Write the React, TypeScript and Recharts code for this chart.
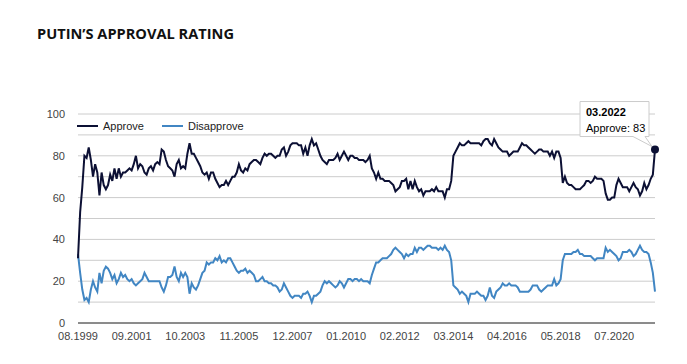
import { LineChart, Line, XAxis, YAxis, CartesianGrid, ReferenceDot } from "recharts"

// Levada-style monthly poll, 08.1999 - 03.2022 (two months absent from the series)
const approve = [
  31, 53, 65, 80, 79,
  84, 78, 70, 76, 72, 61, 72, 66, 64, 66, 71, 68,
  74, 69, 74, 70, 72, 72, 73, 74, 73, 76, 80, 74,
  76, 75, 72, 71, 74, 75, 73, 76, 77, 76, 83, 82,
  78, 75, 74, 73, 70, 76, 78, 74, 75, 74, 81, 86,
  81, 81, 79, 77, 75, 72, 71, 72, 69, 72, 72, 69,
  67, 65, 66, 66, 68, 66, 68, 70, 70, 72, 76, 73,
  72, 74, 73, 76, 77, 78, 78, 77, 76, 79, 81, 80,
  81, 81, 80, 79, 80, 80, 83, 84, 80, 82, 85, 86,
  86, 86, 85, 85, 81, 84, 80, 85, 88, 85, 86, 83,
  80, 78, 77, 76, 78, 78, 78, 79, 81, 78, 80, 82,
  80, 78, 80, 80, 79, 79, 78, 78, 78, 77, 78, 80,
  74, 72, 69, 72, 69, 69, 68, 68, 68, 67, 66, 63,
  64, 65, 68, 68, 69, 64, 68, 64, 68, 65, 63, 64,
  61, 63, 63, 63, 64, 63, 65, 63, 63, 63, 60, 64,
  64, 68,
  80, 82, 84, 86, 85, 85, 86, 87, 86, 86, 86, 86,
  86, 85, 87, 88, 88, 86, 85, 88, 86, 84, 83, 82,
  82, 82, 80, 81, 82, 82, 82, 84, 86, 85, 85, 84,
  83, 82, 81, 82, 83, 83, 82, 82, 82, 80, 82, 79,
  82, 82, 79, 67, 70, 67, 66, 66, 65, 64, 64, 64,
  65, 66, 68, 68, 67, 68, 70, 69, 69, 69, 68, 62,
  59, 59, 60, 60, 66, 69, 67, 65, 65, 65, 63, 65,
  67, 65, 64, 61, 63, 67, 64, 66, 69, 71, 83,
]

const disapprove = [
  33, 24, 16, 11, 12,
  10, 16, 20, 17, 15, 24, 19, 25, 27, 26, 24, 21,
  23, 19, 21, 24, 22, 23, 21, 20, 21, 19, 18, 19,
  20, 21, 24, 22, 20, 20, 20, 20, 20, 20, 17, 15,
  18, 22, 22, 23, 27, 22, 20, 24, 22, 24, 22, 14,
  19, 17, 16, 18, 21, 24, 25, 29, 28, 29, 29, 31,
  30, 32, 29, 30, 29, 31, 31, 29, 27, 25, 24, 25,
  25, 26, 24, 25, 24, 23, 20, 20, 21, 22, 20, 20,
  19, 19, 18, 18, 17, 15, 16, 19, 17, 15, 13, 12,
  13, 13, 13, 12, 14, 14, 15, 13, 10, 13, 13, 14,
  15, 18, 20, 19, 20, 19, 18, 17, 18, 20, 19, 17,
  19, 21, 21, 20, 21, 21, 20, 21, 20, 20, 20, 19,
  23, 26, 29, 29, 30, 31, 31, 31, 32, 33, 35, 36,
  35, 34, 33, 31, 33, 32, 33, 33, 36, 34, 36, 36,
  35, 36, 37, 37, 36, 36, 36, 35, 36, 35, 37, 35,
  34, 30,
  18, 17, 16, 14, 15, 14, 13, 10, 14, 14, 14, 15,
  14, 13, 13, 11, 13, 17, 13, 12, 15, 16, 17, 19,
  18, 18, 19, 18, 18, 18, 17, 15, 15, 15, 15, 15,
  16, 18, 18, 18, 16, 15, 16, 17, 18, 18, 18, 21,
  18, 19, 21, 30, 33, 33, 33, 33, 34, 34, 35, 33,
  33, 32, 32, 32, 32, 31, 30, 31, 31, 31, 31, 36,
  34, 35, 34, 33, 32, 30, 31, 34, 34, 34, 35, 34,
  32, 33, 35, 37, 35, 34, 34, 33, 29, 24, 15,
]

const xTickLabels = [
  "08.1999", "09.2001", "10.2003", "11.2005", "12.2007", "01.2010",
  "02.2012", "03.2014", "04.2016", "05.2018", "07.2020",
]
const yTicks = [0, 10, 20, 30, 40, 50, 60, 70, 80, 90, 100]
const missingMonths = ["06.2018", "05.2021"]

const FONT = "'Liberation Sans', Arial, sans-serif"
const APPROVE_COLOR = "#0c1034"
const DISAPPROVE_COLOR = "#4186c3"

function monthRange(first: string, last: string, skip: string[]) {
  let [m, y] = first.split(".").map(Number)
  const out: string[] = []
  while (true) {
    const label = `${String(m).padStart(2, "0")}.${y}`
    if (!skip.includes(label)) out.push(label)
    if (label === last) break
    m += 1
    if (m > 12) {
      m = 1
      y += 1
    }
  }
  return out
}

const months = monthRange("08.1999", "03.2022", missingMonths)
const data = months.map((month, i) => ({
  month,
  Approve: approve[i],
  Disapprove: disapprove[i],
}))
const lastPoint = data[data.length - 1]

function YTick({ x, y, payload }: any) {
  if (payload.value % 20 !== 0) return <g />
  return (
    <text x={x} y={y} dy={4} textAnchor="end" fontSize={11} fill="#444" fontFamily={FONT}>
      {payload.value}
    </text>
  )
}

function TooltipDot({ cx, cy }: any) {
  const l = cx - 75
  const r = cx - 6
  const t = cy - 48
  const b = cy - 13
  return (
    <g>
      <path
        d={`M${l},${t} H${r} V${b} H${r - 4} L${cx - 3},${cy - 3} L${r - 16},${b} H${l} Z`}
        fill="#fff"
        stroke="#cccccc"
        strokeWidth={1}
      />
      <text x={l + 6} y={t + 14} fontSize={11} fontWeight={700} fill="#000" fontFamily={FONT}>
        {lastPoint.month}
      </text>
      <text x={l + 6} y={t + 30} fontSize={11} fill="#000" fontFamily={FONT}>
        Approve: {lastPoint.Approve}
      </text>
      <circle cx={cx} cy={cy} r={4} fill={APPROVE_COLOR} />
    </g>
  )
}

function LegendItem({ color, label }: { color: string; label: string }) {
  return (
    <div style={{ display: "flex", alignItems: "center", marginRight: 18 }}>
      <div style={{ width: 21, height: 2, background: color, marginRight: 5 }} />
      <span>{label}</span>
    </div>
  )
}

export default function App() {
  return (
    <div
      style={{
        position: "absolute",
        left: 0,
        top: 0,
        width: 687,
        height: 364,
        background: "#fff",
        overflow: "hidden",
      }}
    >
      <div
        style={{
          position: "absolute",
          left: 37,
          top: 23,
          fontFamily: "'Open Sans', sans-serif",
          fontWeight: 700,
          fontSize: 14.6,
          lineHeight: "20px",
          color: "#111",
          whiteSpace: "nowrap",
        }}
      >
        PUTIN’S APPROVAL RATING
      </div>

      <div style={{ position: "absolute", left: 0, top: 0 }}>
        <LineChart width={687} height={364} data={data} margin={{ top: 114, right: 32, bottom: 11, left: 0 }}>
          <CartesianGrid vertical={false} stroke="#cccccc" />
          <XAxis
            dataKey="month"
            ticks={xTickLabels}
            interval={0}
            tickLine={false}
            tickMargin={3}
            axisLine={{ stroke: "#333" }}
            tick={{ fontSize: 11, fill: "#444", fontFamily: FONT }}
          />
          <YAxis
            width={78}
            domain={[0, 100]}
            ticks={yTicks}
            interval={0}
            axisLine={false}
            tickLine={false}
            tickMargin={7}
            tick={<YTick />}
          />
          <Line
            type="linear"
            dataKey="Disapprove"
            stroke={DISAPPROVE_COLOR}
            strokeWidth={2}
            dot={false}
            isAnimationActive={false}
          />
          <Line
            type="linear"
            dataKey="Approve"
            stroke={APPROVE_COLOR}
            strokeWidth={2}
            dot={false}
            isAnimationActive={false}
          />
          <ReferenceDot x={lastPoint.month} y={lastPoint.Approve} shape={<TooltipDot />} />
        </LineChart>
      </div>

      <div
        style={{
          position: "absolute",
          left: 77,
          top: 118,
          height: 16,
          display: "flex",
          alignItems: "center",
          fontFamily: FONT,
          fontSize: 11,
          color: "#222",
        }}
      >
        <LegendItem color={APPROVE_COLOR} label="Approve" />
        <LegendItem color={DISAPPROVE_COLOR} label="Disapprove" />
      </div>
    </div>
  )
}
